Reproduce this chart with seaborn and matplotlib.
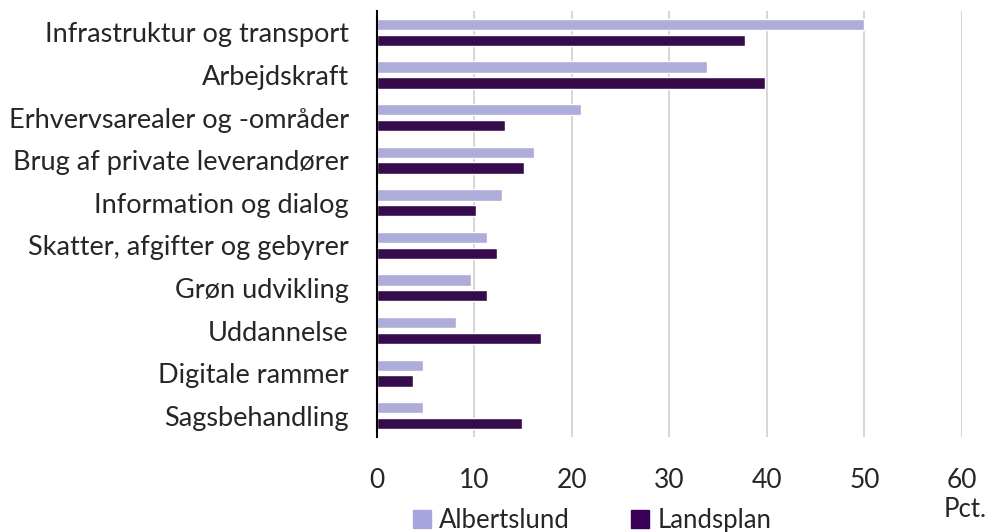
import pandas as pd
import matplotlib.pyplot as plt
import seaborn as sns

categories = [
    "Infrastruktur og transport",
    "Arbejdskraft",
    "Erhvervsarealer og -områder",
    "Brug af private leverandører",
    "Information og dialog",
    "Skatter, afgifter og gebyrer",
    "Grøn udvikling",
    "Uddannelse",
    "Digitale rammer",
    "Sagsbehandling",
]
albertslund = [50.0, 33.9, 21.0, 16.1, 12.9, 11.3, 9.7, 8.1, 4.8, 4.8]
landsplan = [37.8, 39.8, 13.2, 15.1, 10.2, 12.3, 11.3, 16.9, 3.7, 14.9]
series = ["Albertslund", "Landsplan"]
colors = ["#a7a5df", "#3a0057"]

df = pd.DataFrame({
    "kategori": categories * 2,
    "pct": albertslund + landsplan,
    "serie": [series[0]] * len(categories) + [series[1]] * len(categories),
})

sns.set_style("white")
plt.rcParams["font.family"] = ["Lato", "DejaVu Sans"]

fig = plt.figure(figsize=(9.87, 5.32), dpi=100)
ax = fig.add_axes([0.3815, 0.1786, 0.5932, 0.8004])

sns.barplot(data=df, x="pct", y="kategori", hue="serie", order=categories,
            hue_order=series, palette=colors, width=0.74, gap=0.28,
            orient="h", ax=ax, legend=False)

ax.set_xlim(0, 60)
ax.set_xticks(range(0, 61, 10))
ax.xaxis.grid(True, color="#d0d0d0", linewidth=1.2)
ax.set_axisbelow(True)
for s in ["top", "right", "bottom"]:
    ax.spines[s].set_visible(False)
ax.spines["left"].set_color("black")
ax.spines["left"].set_linewidth(1.5)
ax.set_xlabel("")
ax.set_ylabel("")
ax.tick_params(axis="x", length=0, labelsize=19, pad=22)
ax.tick_params(axis="y", length=0, labelsize=19.5, pad=20)

handles = [plt.Rectangle((0, 0), 1, 1, color=c) for c in colors]
fig.legend(handles, series, loc="center", bbox_to_anchor=(0.6, 0.022),
           ncol=2, frameon=False, fontsize=18.5, handlelength=0.7,
           handleheight=0.7, handletextpad=0.3, columnspacing=2.4)
fig.text(0.978, 0.042, "Pct.", fontsize=18.5, ha="center", va="center")

fig.savefig("out.png", dpi=100)
